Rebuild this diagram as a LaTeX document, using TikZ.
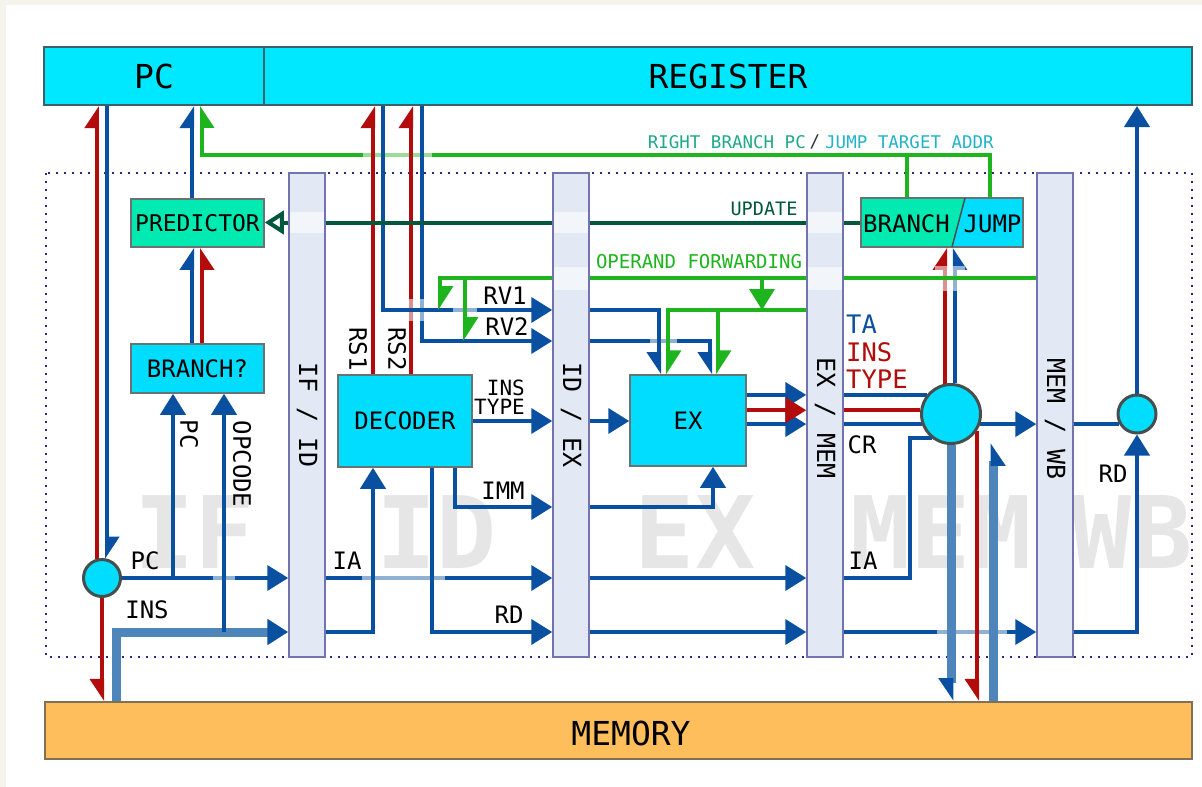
\documentclass[tikz,border=0pt]{standalone}
\usepackage{fontspec}
\setmonofont{DejaVu Sans Mono}
\usetikzlibrary{arrows.meta}
\definecolor{bgbeige}{RGB}{244,244,236}
\definecolor{cyanA}{RGB}{0,232,255}
\definecolor{cyanB}{RGB}{0,221,255}
\definecolor{mint}{RGB}{0,234,178}
\definecolor{barfill}{RGB}{227,233,244}
\definecolor{bardraw}{RGB}{115,115,175}
\definecolor{memfill}{RGB}{255,190,92}
\definecolor{memdraw}{RGB}{130,112,85}
\definecolor{blueA}{RGB}{10,80,160}
\definecolor{redA}{RGB}{178,12,12}
\definecolor{greenA}{RGB}{30,180,30}
\definecolor{dkgreen}{RGB}{0,88,60}
\definecolor{busblue}{RGB}{78,134,187}
\definecolor{navy}{RGB}{40,40,140}
\definecolor{wmgray}{RGB}{230,230,230}
\definecolor{tealA}{RGB}{30,170,135}
\definecolor{tealB}{RGB}{35,180,200}
\definecolor{boxdraw}{RGB}{105,115,115}
\definecolor{pcdraw}{RGB}{60,95,105}
\definecolor{circdraw}{RGB}{70,78,78}
\pgfdeclarelayer{wm}
\pgfdeclarelayer{lines}
\pgfdeclarelayer{bars}
\pgfsetlayers{wm,lines,bars,main}
\newcommand{\fsz}[1]{\fontsize{#1}{#1}\selectfont}
\tikzset{
  lbl/.style={font=\ttfamily\fsz{24}, inner sep=0pt},
  box/.style={draw=boxdraw, line width=1.5pt, inner sep=0pt, font=\ttfamily\fsz{24}},
  pbar/.style={draw=bardraw, fill=barfill, line width=1.5pt, minimum width=36pt, minimum height=484pt, inner sep=0pt},
  barlbl/.style={font=\ttfamily\fsz{25}, rotate=-90, inner sep=0pt},
  circ/.style={circle, draw=circdraw, line width=3pt, fill=cyanB, inner sep=0pt},
  bl/.style={draw=blueA, line width=4pt},
  rl/.style={draw=redA, line width=4pt},
  gl/.style={draw=greenA, line width=3.6pt},
  bus/.style={draw=busblue, line width=9pt},
  tri/.style={-{Triangle[length=21pt,width=25pt]}},
  hl/.style={-{Stealth[inset=0pt,length=19pt,width=24pt,left]}},
  hr/.style={-{Stealth[inset=0pt,length=19pt,width=24pt,right]}},
  ghl/.style={-{Stealth[inset=0pt,length=21pt,width=26pt,left]}},
  halo/.style={fill=white, opacity=0.55},
  wmark/.style={font=\ttfamily\bfseries\fsz{100}, text=wmgray, anchor=base, inner sep=0pt},
}
\begin{document}
\begin{tikzpicture}[x=1pt,y=-1pt]
\useasboundingbox (0,0) rectangle (1202,787);
% ---------- level coordinates
\coordinate (xPCv) at (173,0);
\coordinate (xOPC) at (224,0);
\coordinate (xBus) at (116,0);
\coordinate (xP1) at (192,0);
\coordinate (xP2) at (202,0);
\coordinate (xDecIn) at (373,0);
\coordinate (xRS1) at (373,0);
\coordinate (xRV1) at (383,0);
\coordinate (xRS2) at (411,0);
\coordinate (xRV2) at (422,0);
\coordinate (xRD) at (432,0);
\coordinate (xF1) at (440,0);
\coordinate (xIMM) at (455,0);
\coordinate (xF2) at (465,0);
\coordinate (xE1) at (659,0);
\coordinate (xG1) at (668,0);
\coordinate (xE2) at (710,0);
\coordinate (xIMM2) at (713,0);
\coordinate (xG2) at (718,0);
\coordinate (xF3) at (762,0);
\coordinate (xBr) at (907,0);
\coordinate (xIAup) at (910,0);
\coordinate (xJp) at (990,0);
\coordinate (xB2) at (993,0);
\coordinate (yBr) at (0,155);
\coordinate (yFwd) at (0,278);
\coordinate (yRV1) at (0,310);
\coordinate (yRV2) at (0,341);
\coordinate (yIMM) at (0,507);
\coordinate (yRD) at (0,632);
\coordinate (yB2) at (0,443);
% ---------- background
\begin{pgfonlayer}{wm}
\fill[bgbeige] (0,0) rectangle (1202,787);
\fill[white] (6,5) rectangle (1202,787);
\node[wmark] (wmIF) at (195,568) {IF};
\node[wmark] (wmID) at (437,568) {ID};
\node[wmark] (wmEX) at (695,568) {EX};
\node[wmark] (wmMEM) at (941,568) {MEM};
\node[wmark] (wmWB) at (1132,568) {WB};
\draw[navy, line width=2pt, dash pattern=on 2pt off 6pt] (46,173) rectangle (1192,657);
\end{pgfonlayer}
% ---------- boxes
\node[box, draw=pcdraw, line width=2pt, fill=cyanA, minimum width=220pt, minimum height=58pt, font=\ttfamily\fsz{33}] (pc) at (154,76) {PC};
\node[box, draw=pcdraw, line width=2pt, fill=cyanA, minimum width=928pt, minimum height=58pt, font=\ttfamily\fsz{33}] (reg) at (728,76) {REGISTER};
\node[box, draw=memdraw, line width=2pt, fill=memfill, minimum width=1147pt, minimum height=57pt] (mem) at (618.5,730.5) {};
\node[lbl, font=\ttfamily\fsz{33}] (memlbl) at (631,733) {MEMORY};
\node[box, fill=mint, minimum width=133pt, minimum height=48pt, font=\ttfamily\fsz{23}] (pred) at (197.5,223) {PREDICTOR};
\node[box, fill=cyanB, minimum width=133pt, minimum height=49pt] (brq) at (197.5,368.5) {BRANCH?};
\node[box, fill=cyanB, minimum width=134pt, minimum height=92pt] (dec) at (405,421) {DECODER};
\node[box, fill=cyanB, minimum width=116pt, minimum height=91pt] (ex) at (688,420.5) {EX};
\fill[mint] (861,198) -- (965,198) -- (952,247) -- (861,247) -- cycle;
\fill[cyanB] (965,198) -- (1023,198) -- (1023,247) -- (952,247) -- cycle;
\node[box, minimum width=162pt, minimum height=49pt] (bj) at (942,222.5) {};
\draw[line width=1.5pt, draw=black!70] (965,198) -- (952,247);
\node[lbl] (bjB) at (906.5,224) {BRANCH};
\node[lbl] (bjJ) at (992.5,224) {JUMP};
\node[circ, minimum size=37pt] (c1) at (102,578) {};
\node[circ, minimum size=59pt] (cmem) at (951,414) {};
\node[circ, minimum size=38pt] (cwb) at (1137,414) {};
% ---------- pipeline registers
\begin{pgfonlayer}{bars}
\node[pbar] (ifid) at (307,415) {};
\node[pbar] (idex) at (571,415) {};
\node[pbar] (exmem) at (825,415) {};
\node[pbar] (memwb) at (1055,415) {};
\fill[halo] (290,212) rectangle (324,233);
\fill[halo] (554,212) rectangle (588,233);
\fill[halo] (554,267) rectangle (588,290);
\fill[halo] (808,212) rectangle (842,233);
\fill[halo] (808,267) rectangle (842,290);
\node[barlbl] (tIFID) at (307,415) {IF / ID};
\node[barlbl] (tIDEX) at (571,415) {ID / EX};
\node[barlbl] (tEXMEM) at (825,418) {EX / MEM};
\node[barlbl] (tMEMWB) at (1055,419) {MEM / WB};
\end{pgfonlayer}
% ---------- connectors
\begin{pgfonlayer}{lines}
% fetch
\draw[rl, hl] (c1.105) -- (c1.105 |- pc.south);
\draw[bl, hl] (c1.75 |- pc.south) -- (c1.75);
\draw[rl, hr] (c1.south) -- (c1.south |- mem.north);
\draw[bl, tri] (c1.east) -- (c1.east -| ifid.west);
\fill[halo] (213,570) rectangle (235,586);
\draw[bl, tri] (xPCv |- c1.east) -- (xPCv |- brq.south);
\draw[bus, -{Triangle[length=21pt,width=25pt,color=blueA]}] (xBus |- mem.north) |- (ifid.west |- yRD);
\draw[bl, tri] (xOPC |- yRD) -- (xOPC |- brq.south);
\draw[bl, hl] (xP1 |- brq.north) -- (xP1 |- pred.south);
\draw[rl, hr] (xP2 |- brq.north) -- (xP2 |- pred.south);
\draw[bl, hl] (xP1 |- pred.north) -- (xP1 |- pc.south);
% branch / jump target
\draw[gl, hr] (xJp |- bj.north) |- (xP2 |- yBr) -- (xP2 |- pc.south);
\draw[gl] (xBr |- bj.north) -- (xBr |- yBr);
\fill[halo] (363,147) rectangle (432,163);
% decode
\draw[rl, hl] (xRS1 |- dec.north) -- (xRS1 |- reg.south);
\draw[rl, hl] (xRS2 |- dec.north) -- (xRS2 |- reg.south);
\draw[bl, tri] (xRV2 |- reg.south) |- (idex.west |- yRV2);
\fill[halo] (404,299) rectangle (430,321);
\draw[bl, tri] (xRV1 |- reg.south) |- (idex.west |- yRV1);
\draw[bl, tri] (dec.east) -- (dec.east -| idex.west);
\draw[bl, tri] (xIMM |- dec.south) |- (idex.west |- yIMM);
\draw[bl, tri] (ifid.east |- c1.east) -- (idex.west |- c1.east);
\fill[halo] (362,570) rectangle (445,586);
\draw[bl, tri] (ifid.east |- yRD) -| (xDecIn |- dec.south);
\draw[bl, tri] (xRD |- dec.south) |- (idex.west |- yRD);
% update
\draw[draw=dkgreen, line width=4pt, -{Triangle[open,length=19pt,width=23pt,fill=white]}] (bj.west) -- (bj.west -| pred.east);
% execute
\draw[bl, tri] (idex.east |- c1.east) -- (exmem.west |- c1.east);
\draw[bl, tri] (idex.east |- yRD) -- (exmem.west |- yRD);
\draw[bl, tri] (idex.east |- dec.east) -- (ex.west |- dec.east);
\draw[bl, tri] (idex.east |- yIMM) -| (xIMM2 |- ex.south);
\draw[bl, hr] (idex.east |- yRV2) -| (xE2 |- ex.north);
\fill[halo] (650,332) rectangle (677,350);
\draw[bl, hr] (idex.east |- yRV1) -| (xE1 |- ex.north);
% branch unit inputs
\draw[rl, hl] (cmem.101) -- (cmem.101 |- bj.south);
\draw[bl, hr] (cmem.83) -- (cmem.83 |- bj.south);
\fill[halo] (935,266) rectangle (965,291);
% forwarding
\draw[gl, ghl] (memwb.west |- yFwd) -| (xF1 |- yRV1);
\fill[halo] (453,301) rectangle (477,319);
\draw[gl, ghl] (xF2 |- yFwd) -- (xF2 |- yRV2);
\draw[gl, tri] (xF3 |- yFwd) -- (xF3 |- yRV1);
\draw[gl, ghl] (exmem.west |- yRV1) -| (xG1 |- ex.north);
\draw[gl, ghl] (xG2 |- yRV1) -- (xG2 |- ex.north);
% EX outputs
\draw[bl, tri] (ex.east |- cmem.142) -- (exmem.west |- cmem.142);
\draw[bl, tri] (ex.east |- cmem.199) -- (exmem.west |- cmem.199);
\draw[rl, tri] (ex.east |- cmem.173) -- (exmem.west |- cmem.173);
\draw[bl] (exmem.east |- cmem.142) -- (cmem.142);
\draw[rl] (exmem.east |- cmem.173) -- (cmem.173);
\draw[bl] (exmem.east |- cmem.199) -- (cmem.199);
\draw[bl] (exmem.east |- c1.east) -| (xIAup |- cmem.231) -- (cmem.231);
% memory / write back
\draw[bl, tri] (cmem.341) -- (cmem.341 -| memwb.west);
\draw[bl] (memwb.east |- cwb.210) -- (cwb.210);
\draw[bl, tri] (cwb.north) -- (cwb.north |- reg.south);
\draw[bl, tri] (exmem.east |- yRD) -- (memwb.west |- yRD);
\fill[halo] (937,624) rectangle (1007,640);
\draw[bl, tri] (memwb.east |- yRD) -| (cwb.south);
\draw[bus, -{Stealth[inset=0pt,length=19pt,width=24pt,right,color=blueA]}] (cmem.south) -- (cmem.south |- mem.north);
\draw[rl, hr] (cmem.327) -- (cmem.327 |- mem.north);
\draw[bus, -{Stealth[inset=0pt,length=19pt,width=24pt,right,color=blueA]}] (xB2 |- mem.north) -- (xB2 |- yB2);
\end{pgfonlayer}
% ---------- labels
\node[lbl] (lPC) at (145,561) {PC};
\node[lbl] (lINS) at (147,610) {INS};
\node[lbl, rotate=-90] (lPCv) at (189,434) {PC};
\node[lbl, rotate=-90] (lOPC) at (242,464) {OPCODE};
\node[lbl] (lIA1) at (347,561) {IA};
\node[lbl, rotate=-90] (lRS1) at (358,349) {RS1};
\node[lbl, rotate=-90] (lRS2) at (397,349) {RS2};
\node[lbl] (lRV1) at (505,296) {RV1};
\node[lbl] (lRV2) at (507,327) {RV2};
\node[lbl, font=\ttfamily\fsz{21}, anchor=east] (lINS2) at (525,388) {INS};
\node[lbl, font=\ttfamily\fsz{21}, anchor=east] (lTYPE2) at (525,407) {TYPE};
\node[lbl] (lIMM) at (503,491) {IMM};
\node[lbl] (lRD1) at (509,615) {RD};
\node[lbl, font=\ttfamily\fsz{25.5}, text=blueA, anchor=west] (lTA) at (846,324) {TA};
\node[lbl, font=\ttfamily\fsz{25.5}, text=redA, anchor=west] (lINS3) at (846,352) {INS};
\node[lbl, font=\ttfamily\fsz{25.5}, text=redA, anchor=west] (lTYPE3) at (846,379) {TYPE};
\node[lbl] (lCR) at (862,445) {CR};
\node[lbl] (lIA2) at (863,561) {IA};
\node[lbl] (lRD2) at (1113,474) {RD};
\node[lbl, font=\ttfamily\fsz{19}, text=greenA] (lFwd) at (699,262) {OPERAND FORWARDING};
\node[lbl, font=\ttfamily\fsz{18.5}, text=dkgreen] (lUpd) at (764,209) {UPDATE};
\node[lbl, font=\ttfamily\fsz{17.5}, text=tealA, anchor=east] (lRB) at (806,142) {RIGHT BRANCH PC};
\node[lbl, font=\ttfamily\fsz{17.5}, text=black!80] (lSl) at (815,142) {/};
\node[lbl, font=\ttfamily\fsz{17.5}, text=tealB, anchor=west] (lJT) at (825,142) {JUMP TARGET ADDR};
\end{tikzpicture}
\end{document}
